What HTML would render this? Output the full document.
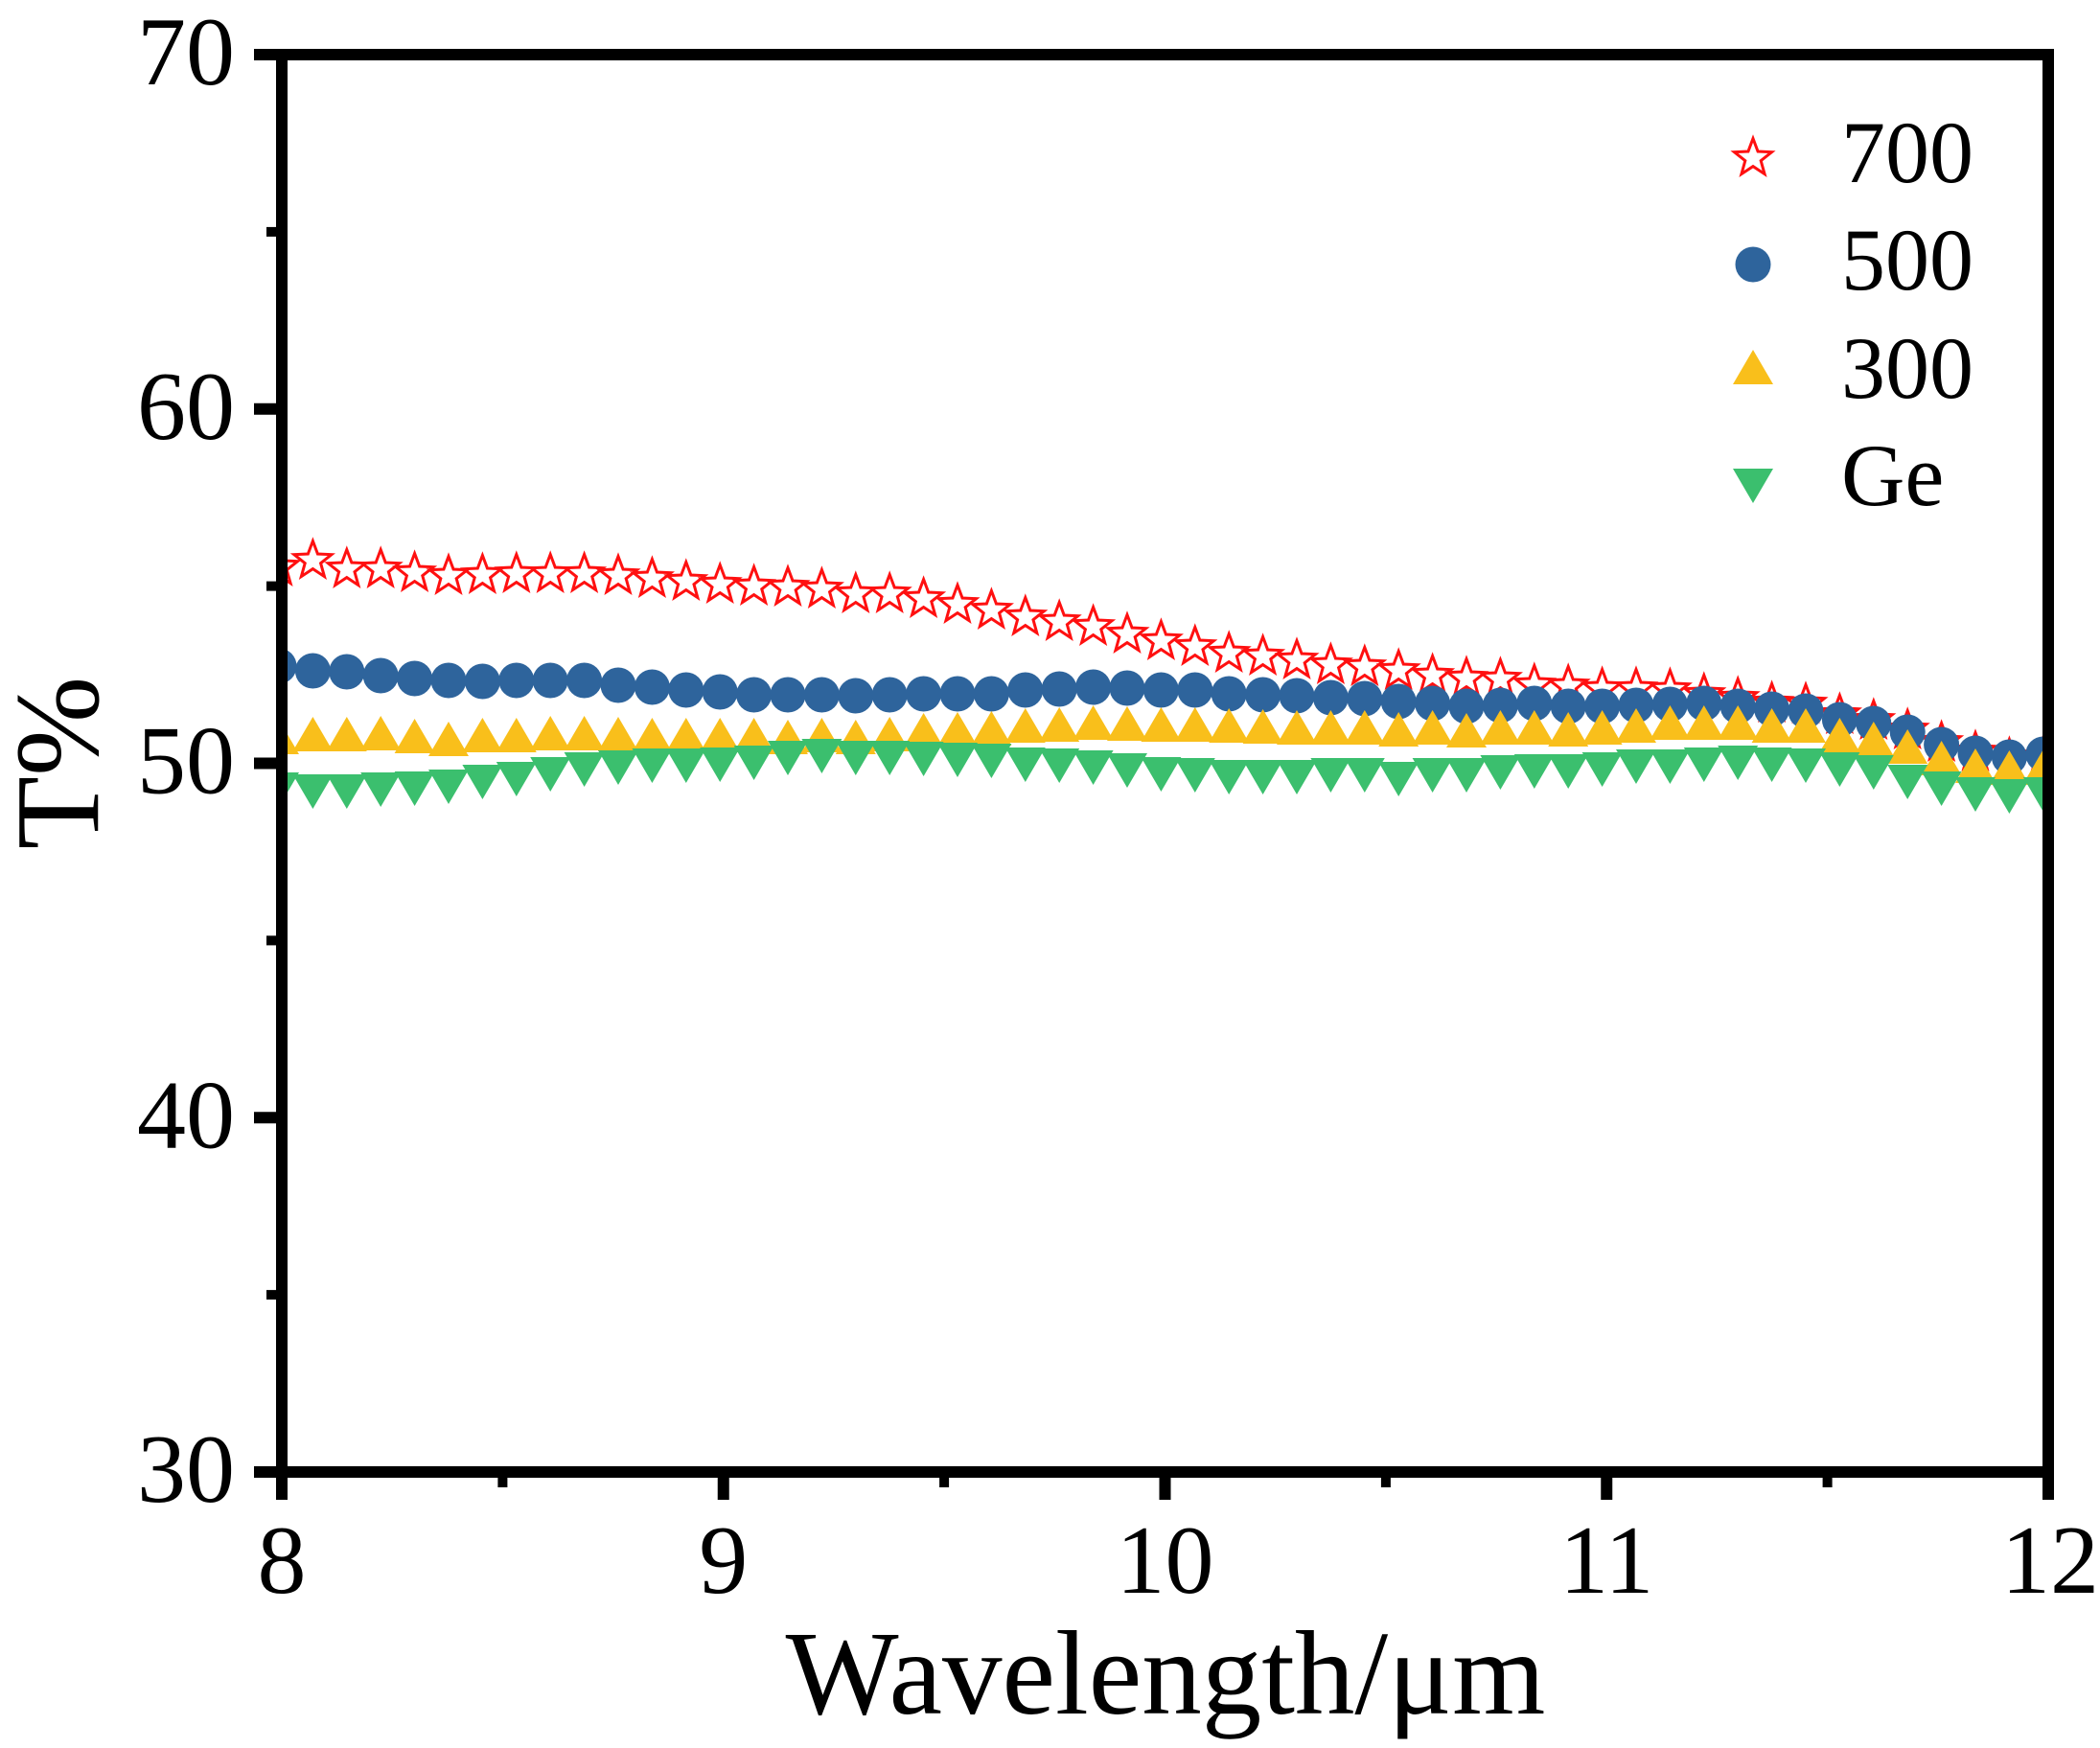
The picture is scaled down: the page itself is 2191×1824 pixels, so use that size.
<!DOCTYPE html>
<html>
<head>
<meta charset="utf-8">
<style>
html,body{margin:0;padding:0;background:#fff;}
svg{display:block;}
text{font-family:"Liberation Serif","Times New Roman",serif;fill:#000;}
</style>
</head>
<body>
<svg width="2191" height="1824" viewBox="0 0 2191 1824" xmlns="http://www.w3.org/2000/svg">
<defs>
<clipPath id="pc"><rect x="294" y="57" width="1843" height="1479"/></clipPath>
<path id="st" d="M0,-18.5 L5.06,-4.96 L19.5,-4.34 L8.18,4.66 L12.05,18.59 L0,10.6 L-12.05,18.59 L-8.18,4.66 L-19.5,-4.34 L-5.06,-4.96 Z" fill="none" stroke="#ff1010" stroke-width="3" stroke-linejoin="miter"/>
<circle id="ci" r="18.5" fill="#2e649c"/>
<path id="tu" d="M0,-18 L21,18 L-21,18 Z" fill="#f9bf1b"/>
<path id="td" d="M0,18 L21,-18 L-21,-18 Z" fill="#3bbf6e"/>
</defs>
<rect width="2191" height="1824" fill="#fff"/>

<g clip-path="url(#pc)">
<!-- 700 stars -->
<use href="#st" x="291" y="590"/><use href="#st" x="326.4" y="583"/><use href="#st" x="361.8" y="592"/><use href="#st" x="397.2" y="592"/><use href="#st" x="432.6" y="596"/><use href="#st" x="468" y="599"/><use href="#st" x="503.4" y="598"/><use href="#st" x="538.8" y="597"/><use href="#st" x="574.2" y="597"/><use href="#st" x="609.6" y="597"/><use href="#st" x="645" y="599"/><use href="#st" x="680.4" y="602"/><use href="#st" x="715.8" y="605"/><use href="#st" x="751.2" y="608"/><use href="#st" x="786.6" y="610"/><use href="#st" x="822" y="611"/><use href="#st" x="857.4" y="613"/><use href="#st" x="892.8" y="618"/><use href="#st" x="928.2" y="618"/><use href="#st" x="963.6" y="623"/><use href="#st" x="999" y="629"/><use href="#st" x="1034.4" y="635"/><use href="#st" x="1069.8" y="642"/><use href="#st" x="1105.2" y="647"/><use href="#st" x="1140.6" y="652"/><use href="#st" x="1176" y="660"/><use href="#st" x="1211.4" y="667"/><use href="#st" x="1246.8" y="673"/><use href="#st" x="1282.2" y="680"/><use href="#st" x="1317.6" y="683"/><use href="#st" x="1353" y="687"/><use href="#st" x="1388.4" y="692"/><use href="#st" x="1423.8" y="694"/><use href="#st" x="1459.2" y="698"/><use href="#st" x="1494.6" y="703"/><use href="#st" x="1530" y="706"/><use href="#st" x="1565.4" y="707"/><use href="#st" x="1600.8" y="713"/><use href="#st" x="1636.2" y="714"/><use href="#st" x="1671.6" y="717"/><use href="#st" x="1707" y="717"/><use href="#st" x="1742.4" y="718"/><use href="#st" x="1777.8" y="723"/><use href="#st" x="1813.2" y="727"/><use href="#st" x="1848.6" y="732"/><use href="#st" x="1884" y="733"/><use href="#st" x="1919.4" y="744"/><use href="#st" x="1954.8" y="750"/><use href="#st" x="1990.2" y="760"/><use href="#st" x="2025.6" y="773"/><use href="#st" x="2061" y="783"/><use href="#st" x="2096.4" y="790"/><use href="#st" x="2131.8" y="788"/>
<!-- 500 circles -->
<use href="#ci" x="291" y="695"/><use href="#ci" x="326.4" y="700"/><use href="#ci" x="361.8" y="701"/><use href="#ci" x="397.2" y="705"/><use href="#ci" x="432.6" y="708"/><use href="#ci" x="468" y="710"/><use href="#ci" x="503.4" y="711"/><use href="#ci" x="538.8" y="710"/><use href="#ci" x="574.2" y="710"/><use href="#ci" x="609.6" y="710"/><use href="#ci" x="645" y="715"/><use href="#ci" x="680.4" y="717"/><use href="#ci" x="715.8" y="720"/><use href="#ci" x="751.2" y="722"/><use href="#ci" x="786.6" y="725"/><use href="#ci" x="822" y="725"/><use href="#ci" x="857.4" y="725"/><use href="#ci" x="892.8" y="726"/><use href="#ci" x="928.2" y="725"/><use href="#ci" x="963.6" y="724"/><use href="#ci" x="999" y="724"/><use href="#ci" x="1034.4" y="724"/><use href="#ci" x="1069.8" y="720"/><use href="#ci" x="1105.2" y="719"/><use href="#ci" x="1140.6" y="717"/><use href="#ci" x="1176" y="718"/><use href="#ci" x="1211.4" y="720"/><use href="#ci" x="1246.8" y="720"/><use href="#ci" x="1282.2" y="724"/><use href="#ci" x="1317.6" y="725"/><use href="#ci" x="1353" y="726"/><use href="#ci" x="1388.4" y="728"/><use href="#ci" x="1423.8" y="729"/><use href="#ci" x="1459.2" y="732"/><use href="#ci" x="1494.6" y="734"/><use href="#ci" x="1530" y="737"/><use href="#ci" x="1565.4" y="736"/><use href="#ci" x="1600.8" y="734"/><use href="#ci" x="1636.2" y="737"/><use href="#ci" x="1671.6" y="737"/><use href="#ci" x="1707" y="736"/><use href="#ci" x="1742.4" y="735"/><use href="#ci" x="1777.8" y="734"/><use href="#ci" x="1813.2" y="737"/><use href="#ci" x="1848.6" y="740"/><use href="#ci" x="1884" y="742"/><use href="#ci" x="1919.4" y="751"/><use href="#ci" x="1954.8" y="755"/><use href="#ci" x="1990.2" y="764"/><use href="#ci" x="2025.6" y="777"/><use href="#ci" x="2061" y="786"/><use href="#ci" x="2096.4" y="790"/><use href="#ci" x="2131.8" y="787"/>
<!-- 300 up triangles -->
<use href="#tu" x="291" y="769"/><use href="#tu" x="326.4" y="766"/><use href="#tu" x="361.8" y="766"/><use href="#tu" x="397.2" y="765"/><use href="#tu" x="432.6" y="768"/><use href="#tu" x="468" y="771"/><use href="#tu" x="503.4" y="767"/><use href="#tu" x="538.8" y="767"/><use href="#tu" x="574.2" y="765"/><use href="#tu" x="609.6" y="765"/><use href="#tu" x="645" y="766"/><use href="#tu" x="680.4" y="767"/><use href="#tu" x="715.8" y="767"/><use href="#tu" x="751.2" y="767"/><use href="#tu" x="786.6" y="767"/><use href="#tu" x="822" y="769"/><use href="#tu" x="857.4" y="767"/><use href="#tu" x="892.8" y="769"/><use href="#tu" x="928.2" y="766"/><use href="#tu" x="963.6" y="762"/><use href="#tu" x="999" y="761"/><use href="#tu" x="1034.4" y="760"/><use href="#tu" x="1069.8" y="757"/><use href="#tu" x="1105.2" y="756"/><use href="#tu" x="1140.6" y="754"/><use href="#tu" x="1176" y="755"/><use href="#tu" x="1211.4" y="756"/><use href="#tu" x="1246.8" y="756"/><use href="#tu" x="1282.2" y="757"/><use href="#tu" x="1317.6" y="758"/><use href="#tu" x="1353" y="759"/><use href="#tu" x="1388.4" y="759"/><use href="#tu" x="1423.8" y="759"/><use href="#tu" x="1459.2" y="761"/><use href="#tu" x="1494.6" y="759"/><use href="#tu" x="1530" y="762"/><use href="#tu" x="1565.4" y="759"/><use href="#tu" x="1600.8" y="759"/><use href="#tu" x="1636.2" y="761"/><use href="#tu" x="1671.6" y="759"/><use href="#tu" x="1707" y="757"/><use href="#tu" x="1742.4" y="754"/><use href="#tu" x="1777.8" y="754"/><use href="#tu" x="1813.2" y="754"/><use href="#tu" x="1848.6" y="757"/><use href="#tu" x="1884" y="757"/><use href="#tu" x="1919.4" y="767"/><use href="#tu" x="1954.8" y="771"/><use href="#tu" x="1990.2" y="779"/><use href="#tu" x="2025.6" y="791"/><use href="#tu" x="2061" y="799"/><use href="#tu" x="2096.4" y="801"/><use href="#tu" x="2131.8" y="800"/>
<!-- Ge down triangles -->
<use href="#td" x="291" y="824"/><use href="#td" x="326.4" y="826"/><use href="#td" x="361.8" y="826"/><use href="#td" x="397.2" y="824"/><use href="#td" x="432.6" y="823"/><use href="#td" x="468" y="821"/><use href="#td" x="503.4" y="816"/><use href="#td" x="538.8" y="813"/><use href="#td" x="574.2" y="808"/><use href="#td" x="609.6" y="803"/><use href="#td" x="645" y="801"/><use href="#td" x="680.4" y="799"/><use href="#td" x="715.8" y="799"/><use href="#td" x="751.2" y="798"/><use href="#td" x="786.6" y="796"/><use href="#td" x="822" y="791"/><use href="#td" x="857.4" y="789"/><use href="#td" x="892.8" y="791"/><use href="#td" x="928.2" y="791"/><use href="#td" x="963.6" y="792"/><use href="#td" x="999" y="793"/><use href="#td" x="1034.4" y="794"/><use href="#td" x="1069.8" y="798"/><use href="#td" x="1105.2" y="799"/><use href="#td" x="1140.6" y="801"/><use href="#td" x="1176" y="804"/><use href="#td" x="1211.4" y="808"/><use href="#td" x="1246.8" y="809"/><use href="#td" x="1282.2" y="811"/><use href="#td" x="1317.6" y="811"/><use href="#td" x="1353" y="811"/><use href="#td" x="1388.4" y="809"/><use href="#td" x="1423.8" y="809"/><use href="#td" x="1459.2" y="813"/><use href="#td" x="1494.6" y="809"/><use href="#td" x="1530" y="809"/><use href="#td" x="1565.4" y="806"/><use href="#td" x="1600.8" y="805"/><use href="#td" x="1636.2" y="805"/><use href="#td" x="1671.6" y="803"/><use href="#td" x="1707" y="800"/><use href="#td" x="1742.4" y="800"/><use href="#td" x="1777.8" y="798"/><use href="#td" x="1813.2" y="796"/><use href="#td" x="1848.6" y="798"/><use href="#td" x="1884" y="799"/><use href="#td" x="1919.4" y="803"/><use href="#td" x="1954.8" y="806"/><use href="#td" x="1990.2" y="816"/><use href="#td" x="2025.6" y="823"/><use href="#td" x="2061" y="829"/><use href="#td" x="2096.4" y="831"/><use href="#td" x="2131.8" y="829"/>
</g>

<!-- axes frame -->
<rect x="294" y="57" width="1843" height="1479" fill="none" stroke="#000" stroke-width="12"/>
<!-- left major ticks -->
<g stroke="#000" stroke-width="12">
<line x1="265" y1="57" x2="294" y2="57"/>
<line x1="265" y1="426.75" x2="294" y2="426.75"/>
<line x1="265" y1="796.5" x2="294" y2="796.5"/>
<line x1="265" y1="1166.25" x2="294" y2="1166.25"/>
<line x1="265" y1="1536" x2="294" y2="1536"/>
<!-- bottom major ticks -->
<line x1="294" y1="1536" x2="294" y2="1565"/>
<line x1="754.75" y1="1536" x2="754.75" y2="1565"/>
<line x1="1215.5" y1="1536" x2="1215.5" y2="1565"/>
<line x1="1676.25" y1="1536" x2="1676.25" y2="1565"/>
<line x1="2137" y1="1536" x2="2137" y2="1565"/>
</g>
<g stroke="#000" stroke-width="10">
<line x1="278" y1="241.9" x2="294" y2="241.9"/>
<line x1="278" y1="611.6" x2="294" y2="611.6"/>
<line x1="278" y1="981.4" x2="294" y2="981.4"/>
<line x1="278" y1="1351.1" x2="294" y2="1351.1"/>
<line x1="524.4" y1="1536" x2="524.4" y2="1552"/>
<line x1="985.1" y1="1536" x2="985.1" y2="1552"/>
<line x1="1445.9" y1="1536" x2="1445.9" y2="1552"/>
<line x1="1906.6" y1="1536" x2="1906.6" y2="1552"/>
</g>

<!-- y tick labels -->
<g font-size="102" text-anchor="end">
<text x="245" y="88">70</text>
<text x="245" y="457.75">60</text>
<text x="245" y="827.5">50</text>
<text x="245" y="1197.25">40</text>
<text x="245" y="1567">30</text>
</g>
<!-- x tick labels -->
<g font-size="102" text-anchor="middle">
<text x="294" y="1662">8</text>
<text x="754.75" y="1662">9</text>
<text x="1215.5" y="1662">10</text>
<text x="1676.25" y="1662">11</text>
<text x="2139" y="1662">12</text>
</g>

<!-- axis titles -->
<text x="1216" y="1788" font-size="125" text-anchor="middle">Wavelength/μm</text>
<text transform="translate(102,796) rotate(-90)" font-size="125" text-anchor="middle">T%</text>

<!-- legend -->
<use href="#st" x="1829" y="163"/>
<use href="#ci" x="1829" y="276"/>
<use href="#tu" x="1829" y="383"/>
<use href="#td" x="1829" y="507"/>
<g font-size="92">
<text x="1921" y="190">700</text>
<text x="1921" y="302">500</text>
<text x="1921" y="415">300</text>
<text x="1921" y="527">Ge</text>
</g>
</svg>
</body>
</html>
